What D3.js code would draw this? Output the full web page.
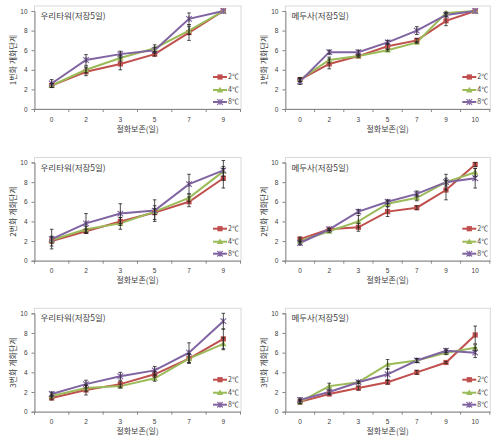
<!DOCTYPE html>
<html><head><meta charset="utf-8">
<script src="https://cdn.jsdelivr.net/npm/d3@7"></script>
<style>body{margin:0;background:#fff}svg{display:block}text{font-family:"Noto Sans CJK KR","Noto Sans",sans-serif;fill:#404040}</style>
</head><body><svg id="c" width="503" height="444"></svg>
<script>
// ---- data ----
const catsA = ["0","2","3","5","7","9"];
const catsB = ["0","2","3","5","7","9","10"];
const seriesNames = ["2℃","4℃","8℃"];
const yTicks = [0,2,4,6,8,10];
const panelTitles = ["우리타워(저장5일)","메두사(저장5일)","우리타워(저장5일)","메두사(저장5일)","우리타워(저장5일)","메두사(저장5일)"];
const yTitles = ["1번화 개화단계","1번화 개화단계","2번화 개화단계","2번화 개화단계","3번화 개화단계","3번화 개화단계"];
const xTitle = "절화보존(일)";

// panel 1 : 1번화, 우리타워
const p1_2 = [2.4,3.8,4.6,5.6,7.8,10], p1_2e = [0.2,0.4,0.6,0.2,0.8,0];
const p1_4 = [2.4,4.0,5.2,6.2,8.0,10], p1_4e = [0.2,0.3,0.3,0.35,0.4,0];
const p1_8 = [2.6,5.0,5.6,6.0,9.2,10], p1_8e = [0.4,0.55,0.3,0.3,0.6,0];
// panel 2 : 1번화, 메두사
const p2_2 = [3.0,4.6,5.4,6.4,7.0,9.0,10], p2_2e = [0.2,0.5,0.1,0.3,0.2,0.5,0];
const p2_4 = [3.0,5.0,5.4,6.0,6.8,9.8,10], p2_4e = [0.2,0.3,0.1,0.1,0.1,0.1,0];
const p2_8 = [2.8,5.8,5.8,6.8,8.0,9.6,10], p2_8e = [0.3,0.2,0.2,0.2,0.4,0.2,0];
// panel 3 : 2번화, 우리타워
const p3_2 = [2.0,3.0,4.0,4.9,6.0,8.4], p3_2e = [0.5,0.2,0.4,0.7,0.5,1.0];
const p3_4 = [2.1,3.2,3.8,5.0,6.4,9.1], p3_4e = [0.3,0.3,0.6,0.3,0.4,0.5];
const p3_8 = [2.2,3.8,4.8,5.1,7.8,9.2], p3_8e = [1.0,1.0,1.0,1.1,1.0,1.0];
// panel 4 : 2번화, 메두사
const p4_2 = [2.2,3.2,3.4,5.0,5.4,7.2,9.8], p4_2e = [0.2,0.1,0.4,0.5,0.2,1.0,0.2];
const p4_4 = [2.0,3.0,4.0,5.8,6.4,8.0,9.0], p4_4e = [0.2,0.1,0.6,0.3,0.3,0.4,0.4];
const p4_8 = [1.8,3.2,5.0,6.0,6.8,8.0,8.4], p4_8e = [0.2,0.1,0.2,0.2,0.3,0.8,1.0];
// panel 5 : 3번화, 우리타워
const p5_2 = [1.4,2.2,2.8,3.8,5.4,7.4], p5_2e = [0.2,0.5,0.3,0.3,0.5,1.0];
const p5_4 = [1.6,2.4,2.6,3.4,5.4,6.9], p5_4e = [0.2,0.3,0.2,0.3,0.4,0.6];
const p5_8 = [1.8,2.8,3.6,4.2,6.0,9.2], p5_8e = [0.2,0.4,0.4,0.4,1.0,0.8];
// panel 6 : 3번화, 메두사
const p6_2 = [1.0,1.8,2.4,3.0,4.0,5.0,7.8], p6_2e = [0.2,0.1,0.2,0.2,0.2,0.1,0.9];
const p6_4 = [1.0,2.6,3.0,4.8,5.2,6.0,6.5], p6_4e = [0.2,0.3,0.1,0.5,0.2,0.2,0.3];
const p6_8 = [1.2,2.0,3.0,3.8,5.2,6.2,6.0], p6_8e = [0.2,0.2,0.1,0.6,0.2,0.2,0.5];

// ---- layout / style ----
const colors = ["#C0504D","#9BBB59","#8064A2"];
const colLayout = [{x0:34.5,x1:240.5,yt:13},{x0:285.4,x1:489.8,yt:264}];
const rowLayout = [{top:11,bot:109},{top:162.5,bot:260.7},{top:313.3,bot:411.7}];

const panels = [
  {cats:catsA,vals:[p1_2,p1_4,p1_8],errs:[p1_2e,p1_4e,p1_8e],col:0,row:0},
  {cats:catsB,vals:[p2_2,p2_4,p2_8],errs:[p2_2e,p2_4e,p2_8e],col:1,row:0},
  {cats:catsA,vals:[p3_2,p3_4,p3_8],errs:[p3_2e,p3_4e,p3_8e],col:0,row:1},
  {cats:catsB,vals:[p4_2,p4_4,p4_8],errs:[p4_2e,p4_4e,p4_8e],col:1,row:1},
  {cats:catsA,vals:[p5_2,p5_4,p5_8],errs:[p5_2e,p5_4e,p5_8e],col:0,row:2},
  {cats:catsB,vals:[p6_2,p6_4,p6_8],errs:[p6_2e,p6_4e,p6_8e],col:1,row:2}
];

const svg = d3.select("#c");

function marker(g, type, cx, cy, color){
  if(type===0){
    g.append("rect").attr("x",cx-2.6).attr("y",cy-2.6).attr("width",5.2).attr("height",5.2).attr("fill",color);
  } else if(type===1){
    g.append("path").attr("d",`M${cx},${cy-3.2}L${cx+3.2},${cy+2.4}L${cx-3.2},${cy+2.4}Z`).attr("fill",color);
  } else {
    g.append("path").attr("d",`M${cx-2.8},${cy-2.8}L${cx+2.8},${cy+2.8}M${cx-2.8},${cy+2.8}L${cx+2.8},${cy-2.8}M${cx},${cy-3}L${cx},${cy+3}`)
      .attr("stroke",color).attr("stroke-width",1.1).attr("fill","none");
  }
}

panels.forEach((p,i)=>{
  const cl = colLayout[p.col], rl = rowLayout[p.row];
  const g = svg.append("g");
  const x = d3.scaleBand().domain(p.cats).range([cl.x0,cl.x1]).padding(0);
  const y = d3.scaleLinear().domain([0,10]).range([rl.bot,rl.top]);
  const cx = c => x(c)+x.bandwidth()/2;

  // plot-area border
  g.append("rect").attr("x",cl.x0).attr("y",rl.top-5).attr("width",cl.x1-cl.x0+0.5).attr("height",rl.bot-rl.top+5)
    .attr("fill","none").attr("stroke","#d9d9d9").attr("stroke-width",1);

  // y axis
  const ya = g.append("g").attr("transform",`translate(${cl.x0},0)`)
    .call(d3.axisLeft(y).tickValues(yTicks).tickSize(3).tickPadding(4));
  ya.select(".domain").attr("stroke","#868686");
  ya.selectAll(".tick line").attr("stroke","#868686");
  ya.selectAll("text").style("font-size","6.5px").attr("fill","#404040").style("font-family","Liberation Sans, Arial, sans-serif");

  // x axis
  const xa = g.append("g").attr("transform",`translate(0,${rl.bot})`)
    .call(d3.axisBottom(x).tickSize(0).tickPadding(8));
  xa.select(".domain").attr("stroke","#868686");
  xa.selectAll("text").style("font-size","6.5px").attr("fill","#404040").style("font-family","Liberation Sans, Arial, sans-serif");
  // band boundary tick marks
  const bounds = p.cats.map(c=>x(c)).concat([cl.x1]);
  xa.selectAll(".bt").data(bounds).enter().append("line")
    .attr("x1",d=>d).attr("x2",d=>d).attr("y1",0).attr("y2",3).attr("stroke","#868686");

  // titles
  g.append("text").attr("x",cl.x0+6).attr("y",rl.top+8).style("font-size","8.5px").text(panelTitles[i]);
  g.append("text").attr("x",(cl.x0+cl.x1)/2).attr("y",rl.bot+22.5).attr("text-anchor","middle").style("font-size","8px").text(xTitle);
  g.append("text").attr("transform",`translate(${cl.yt},${(rl.top+rl.bot)/2}) rotate(-90)`).attr("text-anchor","middle")
    .attr("dy","0.35em").style("font-size","8px").text(yTitles[i]);

  // series
  const line = d3.line().x((d,j)=>cx(p.cats[j])).y(d=>y(d));
  p.vals.forEach((vals,s)=>{
    g.append("path").attr("d",line(vals)).attr("fill","none").attr("stroke",colors[s]).attr("stroke-width",2);
  });
  p.vals.forEach((vals,s)=>{
    vals.forEach((v,j)=>marker(g,s,cx(p.cats[j]),y(v),colors[s]));
  });
  // error bars
  p.vals.forEach((vals,s)=>{
    vals.forEach((v,j)=>{
      const e = p.errs[s][j]; if(!e) return;
      const xx = cx(p.cats[j]);
      g.append("path").attr("d",`M${xx},${y(v+e)}L${xx},${y(v-e)}M${xx-1.8},${y(v+e)}L${xx+1.8},${y(v+e)}M${xx-1.8},${y(v-e)}L${xx+1.8},${y(v-e)}`)
        .attr("stroke","#222").attr("stroke-width",0.8).attr("fill","none");
    });
  });

  // legend
  const lx = cl.x1 + 0.5 - 28;
  [32,19,7].forEach((dy,s)=>{
    const ly = rl.bot - dy;
    g.append("line").attr("x1",lx).attr("x2",lx+14).attr("y1",ly).attr("y2",ly).attr("stroke",colors[s]).attr("stroke-width",2);
    marker(g,s,lx+7,ly,colors[s]);
    g.append("text").attr("x",lx+15).attr("y",ly).attr("dy","0.35em").style("font-size","7px").text(seriesNames[s]);
  });
});
</script></body></html>
